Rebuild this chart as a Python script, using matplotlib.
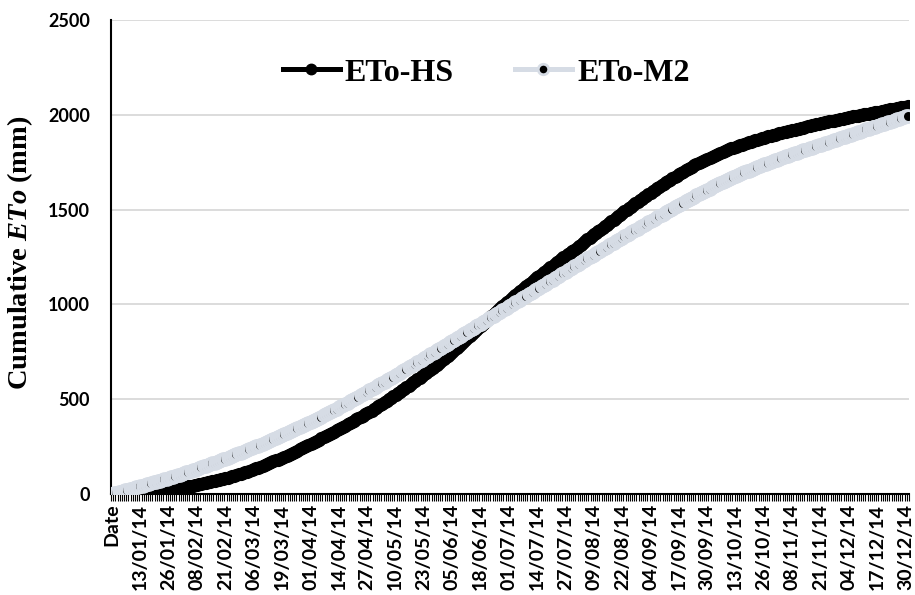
import matplotlib
matplotlib.use('Agg')
import matplotlib.pyplot as plt
import numpy as np
import pandas as pd

hs_jan = [0.8, 0.7, 0.9, 0.8, 0.9, 1.0, 0.8, 0.9, 1.0, 0.9, 1.0, 1.1, 0.9, 1.0, 1.1, 1.0, 1.2, 1.1, 1.0, 1.2, 1.3, 1.1, 1.2, 1.3, 1.2, 1.4, 1.3, 1.2, 1.4, 1.5, 1.4]
hs_feb = [1.6, 1.8, 1.7, 2.0, 1.9, 2.1, 2.2, 2.0, 2.3, 2.4, 2.2, 2.5, 2.6, 2.4, 2.7, 2.8, 2.6, 2.9, 3.0, 2.8, 3.1, 3.2, 3.0, 3.3, 3.4, 3.3, 3.6, 3.7]
hs_mar = [3.8, 3.9, 4.1, 3.9, 4.2, 4.3, 4.1, 4.4, 4.5, 4.3, 4.6, 4.7, 4.6, 4.8, 4.9, 5.0, 4.8, 5.1, 5.2, 5.0, 5.3, 5.4, 5.2, 5.5, 5.6, 5.4, 5.7, 5.8, 5.6, 5.9, 6.0]
hs_apr = [5.6, 5.8, 5.7, 5.9, 6.0, 5.8, 6.1, 6.0, 6.2, 6.1, 5.9, 6.2, 6.3, 6.1, 6.4, 6.3, 6.5, 6.2, 6.4, 6.6, 6.5, 6.7, 6.4, 6.6, 6.8, 6.7, 6.9, 6.6, 6.8, 7.0]
hs_may = [7.3, 7.4, 7.6, 7.5, 7.7, 7.6, 7.8, 7.7, 7.9, 7.8, 8.0, 7.9, 8.1, 8.0, 8.2, 8.1, 8.3, 8.2, 8.4, 8.3, 8.5, 8.4, 8.6, 8.5, 8.7, 8.6, 8.8, 8.7, 8.9, 8.8, 9.0]
hs_jun = [9.7, 9.9, 9.8, 10.1, 10.0, 10.2, 10.3, 10.1, 10.4, 10.5, 10.3, 10.6, 10.7, 10.5, 10.8, 10.2, 10.4, 10.1, 10.3, 10.5, 10.4, 10.2, 10.5, 10.6, 10.4, 10.3, 10.6, 10.5, 10.4, 10.6]
hs_jul = [9.9, 9.7, 9.7, 9.6, 9.4, 9.6, 9.4, 9.4, 9.3, 9.3, 9.2, 9.2, 9.1, 9.1, 9.0, 9.0, 8.9, 8.9, 8.8, 8.8, 8.7, 8.7, 8.6, 8.6, 8.5, 8.5, 8.4, 8.4, 8.3, 8.4, 8.2]
hs_aug = [8.9, 9.0, 8.8, 8.9, 8.7, 8.8, 9.0, 8.9, 8.7, 8.8, 8.6, 8.7, 8.9, 8.8, 8.6, 8.7, 8.5, 8.6, 8.8, 8.7, 8.5, 8.6, 8.4, 8.5, 8.7, 8.6, 8.4, 8.5, 8.3, 8.4, 8.2]
hs_sep = [8.2, 8.1, 8.0, 7.9, 8.0, 7.8, 7.7, 7.6, 7.7, 7.5, 7.4, 7.3, 7.4, 7.2, 7.1, 7.0, 7.1, 6.9, 6.8, 6.7, 6.8, 6.6, 6.5, 6.4, 6.3, 6.2, 6.0, 5.9, 5.8, 5.6]
hs_oct = [5.4, 5.2, 5.1, 5.0, 4.8, 4.9, 4.7, 4.6, 4.5, 4.6, 4.4, 4.3, 4.2, 4.3, 4.1, 4.0, 3.9, 4.0, 3.8, 3.7, 3.6, 3.7, 3.5, 3.4, 3.5, 3.3, 3.2, 3.3, 3.1, 3.0, 3.1]
hs_nov = [3.0, 3.1, 2.9, 3.0, 2.9, 2.8, 3.0, 2.9, 2.8, 2.7, 2.9, 2.8, 2.7, 2.8, 2.6, 2.7, 2.8, 2.7, 2.6, 2.7, 2.5, 2.6, 2.7, 2.6, 2.5, 2.6, 2.4, 2.5, 2.6, 2.4]
hs_dec = [2.4, 2.3, 2.5, 2.3, 2.2, 2.4, 2.3, 2.1, 2.2, 2.3, 2.1, 2.2, 2.0, 2.1, 2.3, 2.2, 2.0, 2.1, 2.2, 2.0, 2.1, 2.3, 2.2, 2.1, 2.0, 2.2, 2.1, 2.3, 2.2, 2.1, 2.0]

m2_jan = [3.1, 3.0, 3.2, 3.1, 3.0, 3.2, 3.1, 3.3, 3.2, 3.1, 3.3, 3.2, 3.4, 3.3, 3.2, 3.4, 3.3, 3.2, 3.4, 3.3, 3.5, 3.4, 3.3, 3.5, 3.4, 3.6, 3.5, 3.4, 3.6, 3.5, 3.7]
m2_feb = [3.6, 3.7, 3.8, 3.7, 3.9, 3.8, 3.9, 4.0, 3.9, 4.0, 4.1, 4.0, 4.1, 4.2, 4.1, 4.2, 4.3, 4.2, 4.3, 4.4, 4.3, 4.4, 4.5, 4.4, 4.5, 4.6, 4.5, 4.6]
m2_mar = [4.5, 4.6, 4.5, 4.7, 4.6, 4.7, 4.8, 4.7, 4.8, 4.9, 4.8, 4.9, 5.0, 4.9, 5.0, 4.9, 5.1, 5.0, 5.1, 5.2, 5.1, 5.2, 5.3, 5.2, 5.3, 5.4, 5.3, 5.4, 5.5, 5.4, 5.5]
m2_apr = [5.6, 5.7, 5.8, 5.7, 5.9, 5.8, 6.0, 5.9, 6.0, 6.1, 6.0, 6.1, 6.2, 6.1, 6.2, 6.3, 6.2, 6.3, 6.4, 6.3, 6.4, 6.3, 6.5, 6.4, 6.5, 6.4, 6.6, 6.5, 6.6, 6.5]
m2_may = [6.6, 6.7, 6.6, 6.8, 6.7, 6.6, 6.8, 6.7, 6.9, 6.8, 6.7, 6.9, 6.8, 6.7, 6.9, 6.8, 7.0, 6.9, 6.8, 7.0, 6.9, 6.8, 7.0, 6.9, 7.1, 7.0, 6.9, 7.0, 6.9, 7.1, 7.0]
m2_jun = [6.9, 7.0, 7.1, 6.9, 7.0, 7.1, 7.0, 6.9, 7.1, 7.0, 7.2, 7.0, 6.9, 7.1, 7.0, 7.2, 7.1, 6.9, 7.0, 7.1, 7.0, 6.9, 7.1, 7.0, 7.2, 7.0, 6.9, 7.0, 7.1, 7.0]
m2_jul = [7.0, 7.1, 6.9, 7.0, 7.2, 7.1, 7.0, 6.9, 7.1, 7.0, 7.2, 7.1, 7.0, 6.9, 7.0, 7.1, 7.2, 7.0, 6.9, 7.0, 7.1, 7.0, 6.9, 7.1, 7.0, 7.2, 7.1, 6.9, 7.0, 7.1, 7.0]
m2_aug = [7.0, 6.9, 7.1, 7.0, 6.9, 6.8, 7.0, 6.9, 7.0, 6.8, 6.9, 7.0, 6.8, 6.9, 6.8, 7.0, 6.9, 6.8, 6.9, 6.7, 6.8, 6.9, 6.8, 6.7, 6.9, 6.8, 6.7, 6.8, 6.6, 6.7, 6.8]
m2_sep = [6.7, 6.8, 6.6, 6.7, 6.6, 6.5, 6.7, 6.6, 6.5, 6.6, 6.4, 6.5, 6.6, 6.4, 6.5, 6.3, 6.4, 6.5, 6.3, 6.2, 6.4, 6.3, 6.2, 6.1, 6.3, 6.2, 6.1, 6.0, 6.2, 6.0]
m2_oct = [5.9, 5.8, 5.7, 5.8, 5.6, 5.5, 5.6, 5.4, 5.3, 5.4, 5.2, 5.1, 5.2, 5.0, 4.9, 5.0, 4.8, 4.9, 4.7, 4.8, 4.6, 4.7, 4.5, 4.6, 4.4, 4.5, 4.3, 4.4, 4.3, 4.2, 4.3]
m2_nov = [4.2, 4.1, 4.2, 4.0, 4.1, 4.0, 3.9, 4.1, 4.0, 3.9, 3.8, 4.0, 3.9, 3.8, 3.9, 3.7, 3.8, 3.9, 3.8, 3.7, 3.8, 3.9, 3.7, 3.8, 3.7, 3.9, 3.8, 3.7, 3.8, 3.9]
m2_dec = [3.9, 3.8, 4.0, 3.9, 3.8, 3.7, 3.9, 3.8, 3.9, 4.0, 3.8, 3.7, 3.9, 3.8, 3.7, 3.9, 3.8, 3.9, 3.7, 3.8, 3.9, 3.8, 3.7, 3.9, 3.8, 3.9, 3.8, 3.7, 3.8, 3.9, 3.8]

days = pd.date_range('2014-01-01', '2014-12-31', freq='D')
categories = ['Date'] + [d.strftime('%d/%m/%y') for d in days]
y_ticks = [0, 500, 1000, 1500, 2000, 2500]
label_step = 13


def main():
    plt.rcParams['mathtext.fontset'] = 'custom'
    plt.rcParams['mathtext.it'] = 'Liberation Serif:italic:bold'
    plt.rcParams['mathtext.rm'] = 'Liberation Serif:bold'

    hs_daily = hs_jan + hs_feb + hs_mar + hs_apr + hs_may + hs_jun + hs_jul + hs_aug + hs_sep + hs_oct + hs_nov + hs_dec
    m2_daily = m2_jan + m2_feb + m2_mar + m2_apr + m2_may + m2_jun + m2_jul + m2_aug + m2_sep + m2_oct + m2_nov + m2_dec
    # cumulative totals, the header row counts as zero
    hs_cum = np.concatenate([[0], np.cumsum(hs_daily)])
    m2_cum = np.concatenate([[0], np.cumsum(m2_daily)])
    x = np.arange(len(categories))

    fig = plt.figure(figsize=(9.15, 5.95), dpi=100)
    ax = fig.add_axes([111 / 915, 1 - 494 / 595, 798 / 915, 474 / 595])

    ax.plot(x, hs_cum, color='black', lw=6, marker='o', ms=8.5,
            mfc='black', mec='black', mew=1, label='ETo-HS', zorder=3)
    ax.plot(x, m2_cum, color='#D6DCE5', lw=5, marker='o', ms=8.5,
            mfc='black', mec='#D6DCE5', mew=2, label='ETo-M2', zorder=4)

    ax.set_xlim(-0.5, len(categories) - 0.5)
    ax.set_ylim(0, 2500)
    ax.set_yticks(y_ticks)
    ax.set_yticklabels([str(v) for v in y_ticks], fontfamily='Lato',
                       fontweight='bold', fontsize=13)
    ax.tick_params(axis='y', length=0, pad=15)
    ax.yaxis.grid(True, color='#D9D9D9', lw=1.3)
    ax.set_axisbelow(True)

    ax.set_xticks(x[::label_step])
    ax.set_xticklabels(categories[::label_step], rotation=90, fontfamily='Lato',
                       fontweight='bold', fontsize=14, va='top', ha='center')
    ax.set_xticks(np.arange(len(categories) + 1) - 0.5, minor=True)
    ax.tick_params(axis='x', which='major', length=0, pad=7)
    ax.tick_params(axis='x', which='minor', length=5, width=0.8, color='black')

    for side in ['top', 'right']:
        ax.spines[side].set_visible(False)
    ax.spines['left'].set_linewidth(1.5)
    ax.spines['bottom'].set_linewidth(1.5)

    fig.text(0.022, 1 - 253 / 595, r'Cumulative $ETo$ (mm)', rotation=90,
             fontfamily='Liberation Serif', fontweight='bold', fontsize=20.5,
             ha='center', va='center')

    leg = ax.legend(loc='center', bbox_to_anchor=(486 / 915, 1 - 73 / 595),
                    bbox_transform=fig.transFigure, ncol=2, frameon=False,
                    prop={'family': 'Liberation Serif', 'weight': 'bold', 'size': 23},
                    handlelength=1.8, handletextpad=0.15, columnspacing=1.9)
    for line in leg.get_lines():
        line.set_linewidth(3.6)
        line.set_markersize(7.5)

    fig.savefig('out.png', dpi=100)


if __name__ == '__main__':
    main()
